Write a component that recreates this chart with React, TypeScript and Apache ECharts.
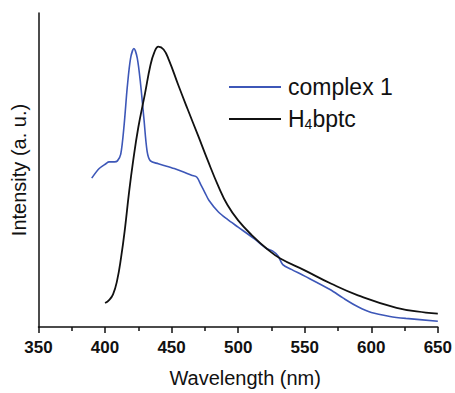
import React, { useEffect, useRef } from "react";
import * as echarts from "echarts";

const seriesNames = ["complex 1", "H4bptc"];

const complexX = [390, 395.6, 400.6, 403, 407, 409.3, 411.8, 414.3, 416.7, 419.2, 421.7, 424.2, 426.7, 429.2, 431.6, 434.1, 440, 445, 452, 458, 465, 469, 472, 475, 478, 485, 492, 500, 512, 521, 526, 530, 533.5, 540, 550, 569, 579, 590, 600, 614, 626, 650];
const complexY = [155, 165, 170, 172, 172, 173, 180, 210, 250, 280, 290, 280, 253, 217, 183, 173, 170, 168, 165, 162, 158, 156, 148, 140, 132, 120, 112, 104, 92, 82, 79, 74, 65, 60, 53, 39, 30, 21, 15, 11, 9, 6];

const ligandX = [400, 403, 406, 409, 412, 415, 418, 421, 425, 430, 434, 437, 440, 444, 448, 455, 462, 470, 477, 485, 492, 500, 510, 522, 532, 550, 570, 590, 619, 641, 650];
const ligandY = [25, 28, 34, 48, 72, 103, 140, 172, 208, 243, 272, 286, 292, 289, 278, 252, 227, 199, 174, 147, 127, 111, 96, 81, 71, 59, 45, 33, 20, 15, 14];

const xMin = 350;
const xMax = 650;
const xInterval = 50;
const yMin = 0;
const yMax = 327;

const FONT = "Liberation Sans, Arial, sans-serif";

export default function App() {
  const ref = useRef<HTMLDivElement>(null);
  useEffect(() => {
    if (!ref.current) return;
    const chart = echarts.init(ref.current, undefined, { renderer: "svg" });
    const zip = (xs: number[], ys: number[]) => xs.map((x, i) => [x, ys[i]]);
    chart.setOption({
      animation: false,
      backgroundColor: "#ffffff",
      grid: { left: 38.5, right: 13.3, top: 13, bottom: 53, containLabel: false },
      legend: {
        orient: "vertical",
        left: 224,
        top: 70,
        itemWidth: 52,
        itemHeight: 2,
        itemGap: 7,
        data: seriesNames.map((n) => ({ name: n, icon: "rect" })),
        textStyle: {
          fontFamily: FONT,
          fontSize: 23,
          color: "#111",
          lineHeight: 24,
          rich: {
            a: { fontFamily: FONT, fontSize: 23, color: "#111", lineHeight: 24, padding: [0, 0, 0, 2] },
            s: { fontFamily: FONT, fontSize: 14, color: "#111", lineHeight: 24, verticalAlign: "bottom", padding: [11, 0, 0, 0] },
            b: { fontFamily: FONT, fontSize: 23, color: "#111", lineHeight: 24 },
          },
        },
        formatter: (name: string) =>
          name === "H4bptc" ? "{a|H}{s|4}{b|bptc}" : "{a|" + name + "}",
      },
      xAxis: {
        type: "value",
        min: xMin,
        max: xMax,
        interval: xInterval,
        name: "Wavelength (nm)",
        nameLocation: "middle",
        nameGap: 41,
        nameTextStyle: { fontFamily: FONT, fontSize: 20, color: "#111", padding: [0, 0, 0, 14] },
        axisLine: { lineStyle: { color: "#111", width: 1.5 } },
        axisTick: { length: 6, lineStyle: { color: "#111", width: 1.5 } },
        minorTick: { show: true, splitNumber: 2, length: 4, lineStyle: { color: "#111", width: 1.5 } },
        axisLabel: { fontFamily: FONT, fontSize: 17, color: "#111", margin: 12, fontWeight: "bold" },
        splitLine: { show: false },
      },
      yAxis: {
        type: "value",
        min: yMin,
        max: yMax,
        name: "Intensity (a. u.)",
        nameLocation: "middle",
        nameGap: 10,
        nameTextStyle: { fontFamily: FONT, fontSize: 20, color: "#111" },
        axisLine: { show: true, lineStyle: { color: "#111", width: 1.5 } },
        axisTick: { show: false },
        axisLabel: { show: false },
        splitLine: { show: false },
      },
      series: [
        {
          name: seriesNames[0],
          type: "line",
          smooth: 0.3,
          symbol: "none",
          data: zip(complexX, complexY),
          lineStyle: { color: "#3d57b8", width: 1.6 },
          itemStyle: { color: "#3d57b8" },
        },
        {
          name: seriesNames[1],
          type: "line",
          smooth: 0.45,
          symbol: "none",
          data: zip(ligandX, ligandY),
          lineStyle: { color: "#111", width: 1.8 },
          itemStyle: { color: "#111" },
        },
      ],
    });
    return () => chart.dispose();
  }, []);
  return (
    <div
      ref={ref}
      style={{ position: "fixed", left: 0, top: 0, width: 455, height: 393 }}
    />
  );
}
